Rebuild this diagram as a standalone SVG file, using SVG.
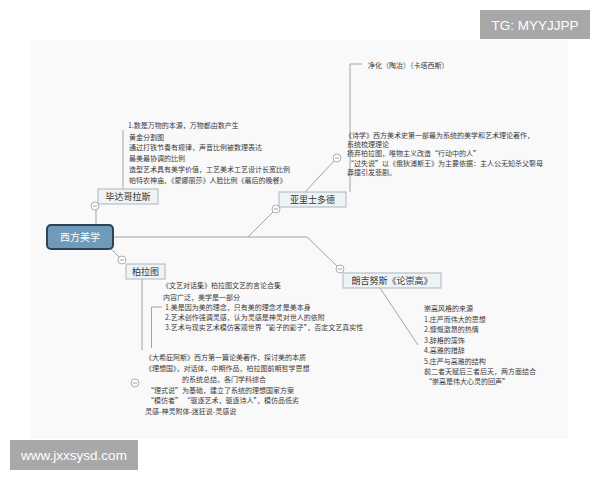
<svg xmlns="http://www.w3.org/2000/svg" width="600" height="480" viewBox="0 0 600 480">
<style>
.note{font-family:"Noto Sans CJK SC","Noto Sans",sans-serif;font-size:7px;fill:#3a3a3a}
.nt{font-family:"Noto Sans CJK SC","Noto Sans",sans-serif;font-size:9px;fill:#333;text-anchor:middle}
.box{fill:#eef3f6;stroke:#aab6be;stroke-width:1}
.ln{fill:none;stroke:#a3a3a3;stroke-width:1}
.col{fill:#fff;stroke:#9a9a9a;stroke-width:0.8}
.wm{fill:#a8a8a8}
.wmt{font-family:"Liberation Sans",Arial,sans-serif;font-size:13.5px;fill:#fff}
</style>
<defs>
<g id="collapse"><circle class="col" r="4"/><line x1="-2.2" y1="0" x2="2.2" y2="0" stroke="#888" stroke-width="0.8"/></g>
</defs>
<rect x="31" y="40" width="537" height="399" fill="#f9f9f9"/>

<g id="connectors">
<line class="ln" x1="96" y1="225" x2="96" y2="210"/>
<line class="ln" x1="111" y1="249" x2="119" y2="257"/>
<path class="ln" d="M113 237 H307 L337 266"/>
<line class="ln" x1="248" y1="237" x2="273" y2="212"/>
<line class="ln" x1="305" y1="192" x2="334" y2="161"/>
<path class="ln" d="M362 64 H350 V192"/>
<line class="ln" x1="123" y1="130" x2="123" y2="189"/>
<line class="ln" x1="142" y1="279" x2="142" y2="350"/>
<path class="ln" d="M162 307 H151.5 V348"/>
<line class="ln" x1="380" y1="288" x2="418" y2="345"/>
<use href="#collapse" x="95" y="206"/>
<use href="#collapse" x="122" y="260"/>
<use href="#collapse" x="276" y="209"/>
<use href="#collapse" x="337" y="158"/>
<use href="#collapse" x="340" y="269"/>
<use href="#collapse" x="135" y="383"/>
</g>

<g id="root">
<rect x="47" y="225" width="66" height="24" rx="4" fill="#6f9aba" stroke="#2b4459" stroke-width="2"/>
<text x="80" y="241" text-anchor="middle" font-family="Noto Sans CJK SC, sans-serif" font-size="10" fill="#fff">西方美学</text>
</g>

<g id="pythagoras">
<rect class="box" x="98" y="189" width="60" height="15"/>
<text class="nt" x="128" y="200">毕达哥拉斯</text>
<text class="note" x="128" y="128">1.数是万物的本源，万物都由数产生</text>
<text class="note" x="129" y="140">黄金分割图</text>
<text class="note" x="129" y="150">通过打铁节奏有规律，声音比例被数理表达</text>
<text class="note" x="129" y="161">最美最协调的比例</text>
<text class="note" x="129" y="172">造型艺术具有美学价值，工艺美术工艺设计长宽比例</text>
<text class="note" x="129" y="183">帕特农神庙、《蒙娜丽莎》人脸比例《最后的晚餐》</text>
</g>

<g id="aristotle">
<rect class="box" x="279" y="192" width="67" height="15"/>
<text class="nt" x="312.5" y="203">亚里士多德</text>
<text class="note" x="368" y="68">净化（陶冶）（卡塔西斯）</text>
<text class="note" x="345" y="137.5">《诗学》西方美术史第一部最为系统的美学和艺术理论著作，</text>
<text class="note" x="347" y="146.5">系统梳理理论</text>
<text class="note" x="347" y="156">扬弃柏拉图，唯物主义改造“行动中的人”</text>
<text class="note" x="347" y="165.5">“过失说”以《俄狄浦斯王》为主要依据：主人公无知杀父娶母</text>
<text class="note" x="347" y="175">莽撞引发悲剧。</text>
</g>

<g id="plato">
<rect class="box" x="126" y="264" width="39" height="15"/>
<text class="nt" x="145.5" y="275">柏拉图</text>
<text class="note" x="162" y="287.5">《文艺对话集》柏拉图文艺的言论合集</text>
<text class="note" x="163" y="300">内容广泛，美学是一部分</text>
<text class="note" x="165" y="310">1.美是因为美的理念，只有美的理念才是美本身</text>
<text class="note" x="165" y="320">2.艺术创作强调灵感，认为灵感是神灵对世人的依附</text>
<text class="note" x="165" y="329.5">3.艺术与现实艺术模仿客观世界“影子的影子”，否定文艺真实性</text>
<text class="note" x="145" y="360">《大希庇阿斯》西方第一篇论美著作，探讨美的本质</text>
<text class="note" x="145" y="371">《理想国》，对话体，中期作品，柏拉图前期哲学思想</text>
<text class="note" x="182" y="381.5">的系统总结，各门学科综合</text>
<text class="note" x="147" y="392.5">“理式说”为基础，建立了系统的理想国家方案</text>
<text class="note" x="147" y="403">“模仿者” “驱逐艺术，驱逐诗人”，模仿品低劣</text>
<text class="note" x="145" y="413.5">灵感-神灵附体-迷狂说-灵感说</text>
</g>

<g id="longinus">
<rect class="box" x="343" y="273" width="98" height="15"/>
<text class="nt" x="392" y="284" font-size="8.5">朗吉努斯《论崇高》</text>
<text class="note" x="424" y="311">崇高风格的来源</text>
<text class="note" x="424" y="321.5">1.庄严而伟大的思想</text>
<text class="note" x="424" y="332">2.慷慨激昂的热情</text>
<text class="note" x="424" y="342.5">3.辞格的藻饰</text>
<text class="note" x="424" y="353">4.高雅的措辞</text>
<text class="note" x="424" y="363.5">5.庄严与高雅的结构</text>
<text class="note" x="424" y="374">前二者天赋后三者后天，两方面结合</text>
<text class="note" x="425" y="384">“崇高是伟大心灵的回声”</text>
</g>

<g id="watermarks">
<rect class="wm" x="480" y="10" width="110" height="29"/>
<text class="wmt" x="535" y="29.5" text-anchor="middle">TG: MYYJJPP</text>
<rect class="wm" x="10" y="440" width="128" height="30"/>
<text class="wmt" x="74" y="460" text-anchor="middle">www.jxxsysd.com</text>
</g>
</svg>
